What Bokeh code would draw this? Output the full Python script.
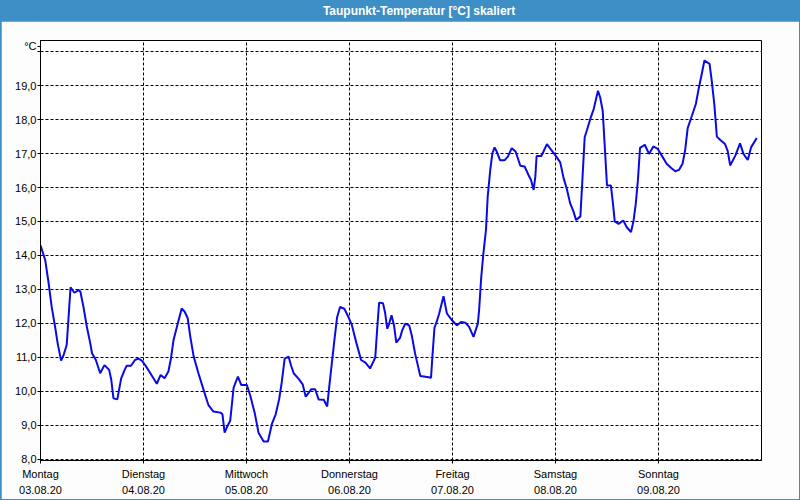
from bokeh.plotting import figure
from bokeh.layouts import column
from bokeh.models import Range1d, FixedTicker
from bokeh.core.properties import value
from bokeh.embed import file_html
from bokeh.resources import INLINE

TITLE = "Taupunkt-Temperatur [°C] skaliert"
UNIT = "°C"
UNIT_POS = 20.16  # where the unit text sits on the value axis

day_names = ["Montag", "Dienstag", "Mittwoch", "Donnerstag", "Freitag", "Samstag", "Sonntag"]
day_dates = ["03.08.20", "04.08.20", "05.08.20", "06.08.20", "07.08.20", "08.08.20", "09.08.20"]
day_hours = [0, 24, 48, 72, 96, 120, 144]

y_ticks = [8, 9, 10, 11, 12, 13, 14, 15, 16, 17, 18, 19, 20]
y_tick_labels = ["8,0", "9,0", "10,0", "11,0", "12,0", "13,0", "14,0", "15,0",
                 "16,0", "17,0", "18,0", "19,0", ""]

# hours since Monday 03.08.20 00:00
hours = [0, 1.1, 1.9, 2.6, 3.4, 4.0, 4.8, 5.4, 6.1, 6.5, 7.0, 7.9, 8.9, 9.3, 10.0,
         10.8, 11.6, 12.0, 12.9, 13.9, 14.9, 16.0, 16.5, 17.0, 17.9, 18.8, 19.6,
         20.1, 21.1, 22.0, 22.8, 23.6, 24.4, 25.6, 27.1, 28.0, 28.9, 29.8, 30.4,
         31.0, 32.0, 32.9, 33.6, 34.3, 34.9, 35.7, 36.8, 38.0, 39.1, 40.3, 41.9,
         42.4, 42.9, 43.4, 44.2, 45.0, 46.0, 46.8, 48.1, 48.9, 49.9, 50.8, 52.0,
         53.0, 53.9, 54.8, 55.6, 56.2, 56.9, 57.8, 58.4, 59.0, 60.1, 61.1, 61.8,
         63.1, 64.0, 64.8, 66.0, 66.8, 67.3, 67.9, 68.5, 69.1, 69.8, 70.8, 71.8,
         72.5, 73.7, 74.7, 75.7, 76.8, 78.0, 78.5, 78.9, 79.8, 80.3, 80.8, 81.2,
         81.8, 82.4, 82.9, 83.8, 84.3, 85.0, 85.9, 86.5, 87.3, 88.5, 90.1, 91.0,
         91.3, 91.8, 92.3, 92.9, 93.9, 94.7, 95.9, 97.0, 98.0, 99.0, 99.9, 100.9,
         101.9, 102.2, 102.7, 103.2, 103.8, 104.2, 104.8, 105.3, 105.8, 106.3,
         107.1, 108.1, 108.9, 109.8, 110.7, 111.8, 112.8, 113.7, 114.3, 114.9,
         115.3, 115.6, 116.7, 117.2, 118.0, 119.0, 119.9, 121.1, 121.9, 122.6,
         123.4, 124.2, 124.8, 125.8, 126.3, 126.8, 127.3, 128.1, 128.9, 129.9,
         130.4, 131.0, 131.6, 132.0, 132.9, 133.4, 133.8, 134.7, 135.8, 136.6,
         137.6, 138.2, 138.7, 139.2, 139.7, 140.8, 141.8, 142.8, 143.8, 144.9,
         145.9, 146.9, 147.9, 148.8, 149.6, 150.2, 150.8, 151.8, 152.7, 153.3,
         154.1, 154.7, 155.9, 156.4, 157.0, 157.6, 158.4, 159.5, 160.1, 160.7,
         161.9, 163.0, 163.8, 164.8, 165.6, 166.9]

dewpoint = [14.3, 13.86, 13.18, 12.49, 11.9, 11.41, 10.9, 11.07, 11.36, 12.1, 13.06,
            12.9, 12.98, 12.93, 12.49, 11.9, 11.41, 11.12, 10.92, 10.53, 10.77,
            10.63, 10.33, 9.79, 9.76, 10.38, 10.63, 10.75, 10.75, 10.92, 10.96,
            10.9, 10.77, 10.53, 10.22, 10.48, 10.38, 10.58, 10.97, 11.51, 12.0,
            12.44, 12.34, 12.15, 11.61, 11.02, 10.53, 10.04, 9.6, 9.4, 9.37, 9.32,
            8.78, 8.93, 9.13, 10.11, 10.43, 10.18, 10.18, 9.86, 9.37, 8.78, 8.52,
            8.52, 9.03, 9.32, 9.76, 10.25, 10.96, 11.02, 10.75, 10.53, 10.37, 10.2,
            9.84, 10.06, 10.06, 9.76, 9.75, 9.55, 10.16, 10.84, 11.53, 12.17, 12.48,
            12.43, 12.17, 11.97, 11.38, 10.92, 10.84, 10.67, 10.99, 11.92, 12.61,
            12.59, 12.31, 11.84, 11.97, 12.24, 11.92, 11.43, 11.58, 11.8, 11.99,
            11.94, 11.65, 11.1, 10.45, 10.42, 10.4, 10.99, 11.87, 12.04, 12.29,
            12.8, 12.29, 12.09, 11.94, 12.04, 12.02, 11.89, 11.6, 11.99, 12.39,
            13.37, 14.06, 14.75, 15.73, 16.52, 17.01, 17.18, 17.06, 16.8, 16.8,
            16.91, 17.16, 17.06, 16.64, 16.62, 16.37, 16.22, 15.93, 16.32, 16.93,
            16.93, 17.06, 17.28, 17.11, 16.96, 16.74, 16.27, 15.98, 15.54, 15.29,
            15.04, 15.15, 16.3, 17.48, 17.68, 18.02, 18.31, 18.85, 18.66, 18.26,
            16.94, 16.06, 16.06, 15.52, 15.0, 14.93, 15.03, 14.83, 14.69, 15.03,
            15.52, 16.21, 17.17, 17.26, 16.99, 17.21, 17.14, 16.91, 16.7, 16.58,
            16.48, 16.52, 16.7, 17.09, 17.75, 18.12, 18.46, 18.87, 19.36, 19.74,
            19.64, 19.15, 18.46, 17.5, 17.4, 17.28, 17.09, 16.65, 16.94, 17.3,
            16.99, 16.81, 17.19, 17.46]

BLUE = "#3d8fc5"
FONT = "Liberation Sans"

# ---- title bar ----
t = figure(width=800, height=21, x_range=Range1d(0, 800), y_range=Range1d(0, 21),
           min_border=0, output_backend="svg", toolbar_location=None,
           background_fill_color=BLUE, border_fill_color=BLUE, outline_line_color=None)
t.axis.visible = False
t.grid.visible = False
t.text(x=[420], y=[10.5], text=[TITLE], text_color="white",
       text_font=value(FONT), text_font_style="bold", text_font_size="12px",
       text_align="center", text_baseline="middle")

# ---- main chart ----
p = figure(width=798, height=478, x_range=Range1d(0, 168), y_range=Range1d(7.96, 20.33),
           output_backend="svg", toolbar_location=None,
           min_border_left=39, min_border_right=38, min_border_top=19, min_border_bottom=39,
           background_fill_color="white", border_fill_color="#fcfdfc",
           outline_line_color="black", outline_line_width=1, margin=(0, 1, 1, 1))

p.line(hours, dewpoint, line_color="#0a0ae6", line_width=2)

xt = FixedTicker(ticks=day_hours)
p.xaxis.ticker = xt
p.xaxis.major_label_overrides = {h: f"{n}\n{d}" for h, n, d in zip(day_hours, day_names, day_dates)}
p.xaxis.minor_tick_line_color = None
p.xaxis.major_tick_in = 0
p.xaxis.major_tick_out = 3
p.xaxis.major_label_standoff = 4
p.xaxis.major_label_text_font = FONT
p.xaxis.major_label_text_font_size = "11px"
p.xaxis.major_label_text_color = "black"
p.xaxis.major_label_text_line_height = 1.4
p.xaxis.axis_line_color = "black"

# value axis: numeric ticks plus the unit text at the top
axis_ticks = y_ticks + [UNIT_POS]
axis_labels = {v: s for v, s in zip(y_ticks, y_tick_labels)}
axis_labels[UNIT_POS] = UNIT
p.yaxis.ticker = FixedTicker(ticks=axis_ticks)
p.yaxis.major_label_overrides = axis_labels
p.yaxis.minor_tick_line_color = None
p.yaxis.major_tick_in = 0
p.yaxis.major_tick_out = 3
p.yaxis.major_label_standoff = 1
p.yaxis.major_label_text_font = FONT
p.yaxis.major_label_text_font_size = "11px"
p.yaxis.major_label_text_color = "black"
p.yaxis.axis_line_color = "black"

xg = FixedTicker(ticks=day_hours)
yg = FixedTicker(ticks=y_ticks)
p.xgrid.ticker = xg
p.ygrid.ticker = yg
for g in (p.xgrid, p.ygrid):
    g.grid_line_color = "black"
    g.grid_line_dash = "3 2"
    g.grid_line_width = 1
    g.grid_line_alpha = 1.0

layout = column(t, p, spacing=0, styles={"background-color": BLUE})

open("out.html", "w").write(file_html(layout, INLINE))
